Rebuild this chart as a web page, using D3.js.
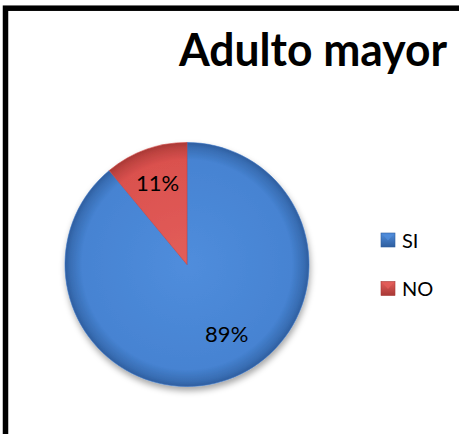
<!DOCTYPE html>
<html>
<head>
<meta charset="utf-8">
<script src="https://cdn.jsdelivr.net/npm/d3@7"></script>
<style>
  html, body { margin: 0; padding: 0; background: #fff; }
  svg { display: block; }
</style>
</head>
<body>
<svg id="chart" width="459" height="434"></svg>
<script>
// ---- data ----
const title = "Adulto mayor";
const categories = ["SI", "NO"];
const values = [89, 11];
const labels = ["89%", "11%"];

// ---- styles / layout ----
const W = 459, H = 434;
const cx = 187, cy = 264.5, R = 122;
const fontFamily = "Lato, 'Open Sans', 'Noto Sans', sans-serif";
const colorMain = { SI: "#4683D2", NO: "#DA514E" };
const colorEdge = { SI: "#2E5E9F", NO: "#A83835" };
const colorLight = { SI: "#508DDC", NO: "#E35E5A" };

const svg = d3.select("#chart");
const defs = svg.append("defs");

categories.forEach(c => {
  const g = defs.append("radialGradient")
    .attr("id", "grad-" + c)
    .attr("gradientUnits", "userSpaceOnUse")
    .attr("cx", 0).attr("cy", 0).attr("r", R);
  g.append("stop").attr("offset", "0%").attr("stop-color", colorLight[c]);
  g.append("stop").attr("offset", "86%").attr("stop-color", colorMain[c]);
  g.append("stop").attr("offset", "96%").attr("stop-color", d3.interpolateRgb(colorMain[c], colorEdge[c])(0.6));
  g.append("stop").attr("offset", "100%").attr("stop-color", colorEdge[c]);

  const lg = defs.append("linearGradient")
    .attr("id", "leg-" + c)
    .attr("x1", 0).attr("y1", 0).attr("x2", 0).attr("y2", 1);
  lg.append("stop").attr("offset", "0%").attr("stop-color", colorLight[c]);
  lg.append("stop").attr("offset", "100%").attr("stop-color", colorEdge[c]);
});

const shadow = defs.append("filter").attr("id", "shadow")
  .attr("x", "-20%").attr("y", "-20%").attr("width", "140%").attr("height", "140%");
shadow.append("feDropShadow")
  .attr("dx", 1).attr("dy", 4).attr("stdDeviation", 3)
  .attr("flood-color", "#000").attr("flood-opacity", 0.35);

svg.append("rect").attr("width", W).attr("height", H).attr("fill", "#fff");

// frame (right and bottom edges lie outside the picture)
svg.append("rect")
  .attr("x", 5.5).attr("y", 8.2)
  .attr("width", W + 20).attr("height", H + 20)
  .attr("fill", "none").attr("stroke", "#000").attr("stroke-width", 5.5);

// title
svg.append("text")
  .attr("x", 179).attr("y", 66)
  .attr("font-family", fontFamily)
  .attr("font-weight", "bold")
  .attr("font-size", 45)
  .attr("textLength", 268)
  .attr("lengthAdjust", "spacingAndGlyphs")
  .attr("fill", "#000")
  .text(title);

// pie
const data = categories.map((c, i) => ({ cat: c, value: values[i], label: labels[i] }));
const pie = d3.pie().value(d => d.value).sort(null);
const arcs = pie(data);
const arc = d3.arc().innerRadius(0).outerRadius(R);

const g = svg.append("g").attr("transform", `translate(${cx},${cy})`);
g.append("g").attr("filter", "url(#shadow)")
  .selectAll("path").data(arcs).join("path")
  .attr("d", arc)
  .attr("fill", d => `url(#grad-${d.data.cat})`)
  .attr("stroke", d => d3.color(colorEdge[d.data.cat]).brighter(0.6))
  .attr("stroke-width", 0.6);

// labels
const labelRadius = { SI: 0.66, NO: 0.71 };
const labelAngleShift = { SI: -0.17, NO: 0 };
const pos = d => {
  const a = (d.startAngle + d.endAngle) / 2 + labelAngleShift[d.data.cat];
  const r = R * labelRadius[d.data.cat];
  return [Math.sin(a) * r, -Math.cos(a) * r];
};
g.selectAll("text.lbl").data(arcs).join("text")
  .attr("class", "lbl")
  .attr("x", d => pos(d)[0])
  .attr("y", d => pos(d)[1])
  .attr("dy", "0.36em")
  .attr("text-anchor", "middle")
  .attr("font-family", fontFamily)
  .attr("font-size", 22)
  .attr("fill", "#000")
  .text(d => d.data.label);

// legend
const legend = svg.append("g").attr("transform", "translate(381,233)");
const items = legend.selectAll("g").data(categories).join("g")
  .attr("transform", (d, i) => `translate(0,${i * 48.5})`);
items.append("rect")
  .attr("width", 14).attr("height", 14)
  .attr("fill", d => `url(#leg-${d})`)
  .attr("stroke", d => colorEdge[d]).attr("stroke-width", 0.6);
items.append("path")
  .attr("d", "M1.5,1.5 L12.5,1.5 L7,7.5 Z")
  .attr("fill", d => colorLight[d])
  .attr("opacity", 0.8);
items.append("text")
  .attr("x", 21).attr("y", 14.5)
  .attr("font-family", fontFamily)
  .attr("font-size", 20)
  .attr("fill", "#000")
  .text(d => d);
</script>
</body>
</html>
